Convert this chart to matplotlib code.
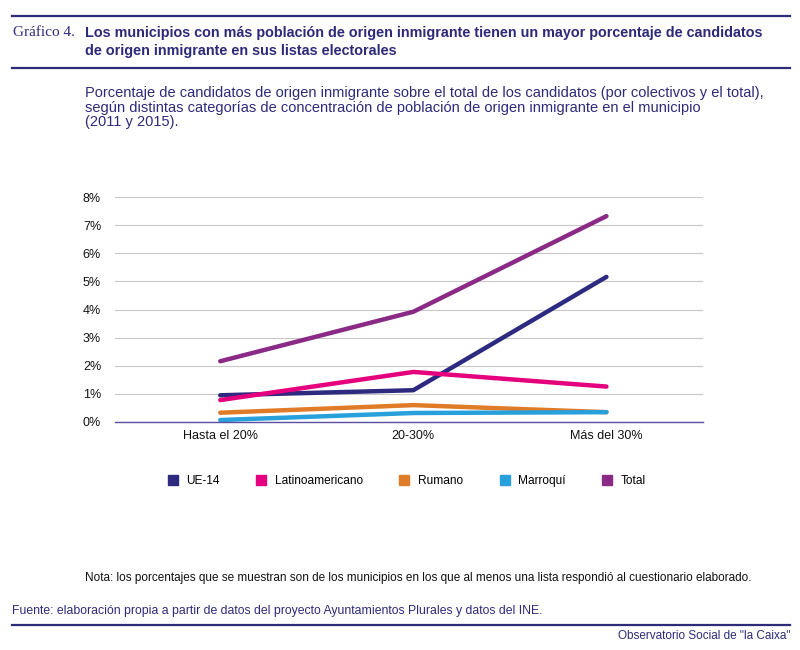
import matplotlib
matplotlib.use('Agg')
import matplotlib.pyplot as plt
from matplotlib.lines import Line2D
from matplotlib.ticker import FuncFormatter

plt.rcParams['font.family'] = ['Liberation Sans', 'DejaVu Sans']

categories = ['Hasta el 20%', '20-30%', 'Más del 30%']
series_names = ['UE-14', 'Latinoamericano', 'Rumano', 'Marroquí', 'Total']
ue14 = [0.95, 1.13, 5.16]
latino = [0.78, 1.78, 1.26]
rumano = [0.33, 0.60, 0.35]
marroqui = [0.07, 0.32, 0.35]
total = [2.16, 3.92, 7.32]
colors = ['#2e2a80', '#e5007d', '#e07b27', '#27a0dc', '#8b2a86']
navy = '#2d2a7a'

fig = plt.figure(figsize=(8, 6.5), dpi=100)

# header / footer rules
for y in [1 - 16 / 650, 1 - 68 / 650, 1 - 625 / 650]:
    fig.add_artist(Line2D([12 / 800, 790 / 800], [y, y], color=navy, lw=1.6))

fig.text(13 / 800, 1 - 33 / 650, 'Gráfico 4.', fontsize=11, color=navy,
         family=['Liberation Serif', 'DejaVu Serif'], va='center')
fig.text(85 / 800, 1 - 33 / 650,
         'Los municipios con más población de origen inmigrante tienen un mayor porcentaje de candidatos',
         fontsize=10.4, color=navy, weight='bold', va='center')
fig.text(85 / 800, 1 - 51 / 650, 'de origen inmigrante en sus listas electorales',
         fontsize=10.4, color=navy, weight='bold', va='center')
fig.text(85 / 800, 1 - 86 / 650,
         'Porcentaje de candidatos de origen inmigrante sobre el total de los candidatos (por colectivos y el total),\n'
         'según distintas categorías de concentración de población de origen inmigrante en el municipio\n'
         '(2011 y 2015).',
         fontsize=10.5, color=navy, va='top', linespacing=1.05)

ax = fig.add_axes([115 / 800, 1 - 422 / 650, 588 / 800, 225 / 650])
x = range(len(categories))
for vals, name, c in zip([ue14, latino, rumano, marroqui, total], series_names, colors):
    ax.plot(x, vals, color=c, lw=3.2, solid_capstyle='round', label=name)

ax.set_xlim(-0.545, 2.5)
ax.set_ylim(0, 8)
ax.set_yticks(range(0, 9))
ax.yaxis.set_major_formatter(FuncFormatter(lambda v, p: f'{int(v)}%'))
ax.set_xticks(list(x))
ax.set_xticklabels(categories)
ax.grid(axis='y', color='#c8c8c8', lw=0.8)
ax.set_axisbelow(True)
for s in ['top', 'right', 'left']:
    ax.spines[s].set_visible(False)
ax.spines['bottom'].set_color('#5a4fa0')
ax.spines['bottom'].set_linewidth(1.0)
ax.tick_params(length=0, labelsize=9, colors='#111111', pad=6)
ax.tick_params(axis='y', pad=10)

handles = [Line2D([], [], marker='s', ls='', color=c, markersize=7) for c in colors]
fig.legend(handles, series_names, loc='center', bbox_to_anchor=(0.507, 1 - 481 / 650),
           ncol=5, frameon=False, fontsize=8.6, handletextpad=0.5, columnspacing=2.9,
           handlelength=1.2)

fig.text(85 / 800, 1 - 578 / 650,
         'Nota: los porcentajes que se muestran son de los municipios en los que al menos una lista respondió al cuestionario elaborado.',
         fontsize=8.5, color='#111111', va='center')
fig.text(12 / 800, 1 - 611 / 650,
         'Fuente: elaboración propia a partir de datos del proyecto Ayuntamientos Plurales y datos del INE.',
         fontsize=8.8, color=navy, va='center')
fig.text(790 / 800, 1 - 636 / 650, 'Observatorio Social de "la Caixa"',
         fontsize=8.5, color=navy, va='center', ha='right')

fig.savefig('out.png', dpi=100)
